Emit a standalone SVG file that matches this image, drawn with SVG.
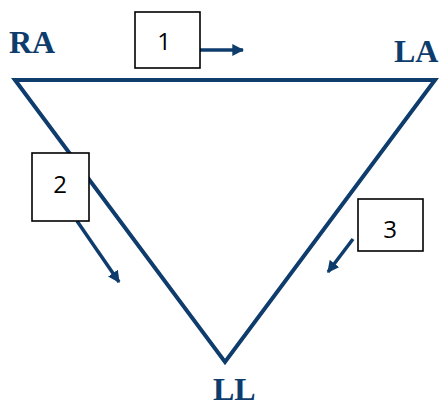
<svg xmlns="http://www.w3.org/2000/svg" width="441" height="408" viewBox="0 0 441 408">
  <style>
    .wire { fill: none; stroke: #0e3c6c; stroke-width: 4; stroke-linejoin: miter; }
    .flow { fill: none; stroke: #0e3c6c; stroke-width: 3.5; }
    .box { fill: #ffffff; stroke: #000000; stroke-width: 1.6; }
    .num { font-family: "Open Sans", "Liberation Sans", sans-serif; font-size: 24px; fill: #000000; text-anchor: middle; }
    .lead { font-family: "Liberation Serif", serif; font-weight: bold; font-size: 32px; fill: #0e3c6c; }
  </style>
  <defs>
    <marker id="head" viewBox="0 0 10 10" refX="9" refY="5" markerWidth="3.4" markerHeight="3.4" orient="auto" markerUnits="strokeWidth">
      <path d="M0,0 L10,5 L0,10 Z" fill="#0e3c6c"/>
    </marker>
  </defs>

  <!-- Einthoven triangle with the three lead directions -->
  <g id="connectors">
    <path class="wire" d="M15,80 L435,80 L225,362 Z"/>
    <line class="flow" x1="200" y1="50" x2="243" y2="50" marker-end="url(#head)"/>
    <line class="flow" x1="77" y1="221" x2="119" y2="282" marker-end="url(#head)"/>
    <line class="flow" x1="353" y1="239" x2="328" y2="272" marker-end="url(#head)"/>
  </g>

  <g id="lead-RA"><text class="lead" x="9" y="53">RA</text></g>
  <g id="lead-LA"><text class="lead" x="394" y="62">LA</text></g>
  <g id="lead-LL"><text class="lead" x="213" y="400">LL</text></g>

  <g id="lead-1">
    <rect class="box" x="135" y="12" width="65" height="56"/>
    <text class="num" x="164" y="50">1</text>
  </g>
  <g id="lead-2">
    <rect class="box" x="32" y="153" width="57" height="68"/>
    <text class="num" x="60" y="193">2</text>
  </g>
  <g id="lead-3">
    <rect class="box" x="358" y="199" width="65" height="52"/>
    <text class="num" x="390" y="238">3</text>
  </g>
</svg>
